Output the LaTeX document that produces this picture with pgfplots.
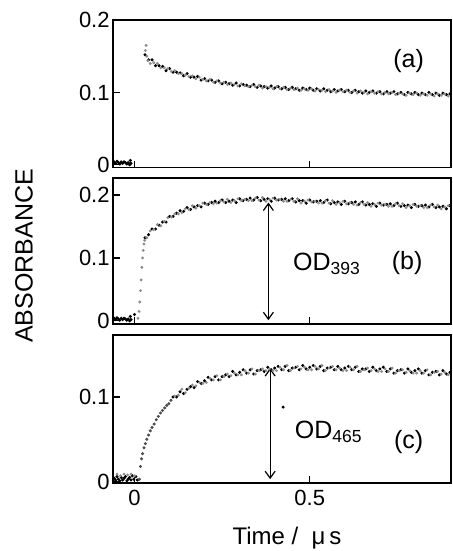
\documentclass[border=0pt]{standalone}
\usepackage{fontspec}
\setmainfont{Liberation Sans}
\usepackage{pgfplots}
\pgfplotsset{compat=1.18}
\usetikzlibrary{arrows.meta}

\tikzset{arr/.style={{Straight Barb[length=3.5pt,width=5pt]}-{Straight Barb[length=3.5pt,width=5pt]}, line width=0.6pt}}
\pgfplotsset{
  panel/.style={
    scale only axis, width=169pt,
    xmin=-0.0614, xmax=0.903,
    axis line style={line width=0.7pt},
    every tick/.style={line width=0.6pt, black},
    major tick length=3.5pt, tick align=inside, tick pos=left,
    xtick={0,0.5}, xticklabels={},
    /pgf/number format/assume math mode=true,
    yticklabel style={font=\fontsize{11}{12}\selectfont, inner sep=1.5pt},
    xticklabel style={font=\fontsize{11}{12}\selectfont},
    clip=false,
  },
  dark/.style={only marks, mark=*, mark size=0.55pt, black},
  light/.style={only marks, mark=*, mark size=0.5pt, black!45},
}

\begin{document}
\begin{tikzpicture}
\useasboundingbox (0,0) rectangle (226pt,275.5pt);

% ---------------- panel (a)
\begin{axis}[panel, at={(56.5pt,265.5pt)}, anchor=north west, height=73.85pt,
  ymin=-0.004, ymax=0.2001, ytick={0,0.1,0.2}]
\addplot[dark] coordinates {
(-0.058,0.004)(-0.054,0.002)(-0.050,0.005)(-0.046,0.003)(-0.042,0.001)(-0.038,0.004)
(-0.034,0.002)(-0.030,0.004)(-0.026,0.003)(-0.022,0.001)(-0.018,0.003)(-0.014,0.000)
(-0.012,0.006)(-0.010,0.002)
(0.03,0.152)(0.04,0.145)(0.05,0.145)(0.06,0.137)(0.07,0.137)(0.08,0.136)(0.09,0.130)
(0.10,0.133)(0.11,0.128)(0.12,0.128)(0.13,0.127)(0.14,0.123)(0.15,0.126)(0.16,0.121)
(0.17,0.121)(0.18,0.122)(0.19,0.117)(0.20,0.119)(0.21,0.116)(0.22,0.117)(0.23,0.114)
(0.24,0.116)(0.25,0.112)(0.26,0.114)(0.27,0.112)(0.28,0.110)(0.29,0.113)(0.30,0.109)
(0.31,0.111)(0.32,0.110)(0.33,0.108)(0.34,0.111)(0.35,0.107)(0.36,0.109)(0.37,0.108)
(0.38,0.106)(0.39,0.109)(0.40,0.106)(0.41,0.108)(0.42,0.105)(0.43,0.107)(0.44,0.104)
(0.45,0.107)(0.46,0.105)(0.47,0.103)(0.48,0.106)(0.49,0.104)(0.50,0.106)(0.51,0.103)
(0.52,0.105)(0.53,0.102)(0.54,0.105)(0.55,0.103)(0.56,0.101)(0.57,0.104)(0.58,0.102)
(0.59,0.104)(0.60,0.101)(0.61,0.103)(0.62,0.100)(0.63,0.103)(0.64,0.101)(0.65,0.099)
(0.66,0.102)(0.67,0.100)(0.68,0.102)(0.69,0.099)(0.70,0.101)(0.71,0.098)(0.72,0.101)
(0.73,0.099)(0.74,0.101)(0.75,0.098)(0.76,0.100)(0.77,0.097)(0.78,0.100)(0.79,0.098)
(0.80,0.100)(0.81,0.097)(0.82,0.099)(0.83,0.097)(0.84,0.100)(0.85,0.097)(0.86,0.099)
(0.87,0.096)(0.88,0.099)(0.89,0.097)(0.90,0.098)};
\addplot[light] coordinates {
(0.031,0.158)(0.033,0.165)(0.035,0.150)(0.038,0.144)
(0.045,0.140)(0.055,0.141)(0.065,0.140)(0.075,0.134)(0.085,0.134)(0.095,0.133)
(0.105,0.129)(0.115,0.130)(0.125,0.126)(0.135,0.126)(0.145,0.124)(0.155,0.122)
(0.165,0.123)(0.175,0.119)(0.185,0.121)(0.195,0.118)(0.205,0.116)(0.215,0.118)
(0.225,0.114)(0.235,0.116)(0.245,0.113)(0.255,0.114)(0.265,0.111)(0.275,0.113)
(0.285,0.111)(0.295,0.109)(0.305,0.112)(0.315,0.109)(0.325,0.108)(0.335,0.110)
(0.345,0.108)(0.355,0.110)(0.365,0.106)(0.375,0.108)(0.385,0.107)(0.395,0.105)
(0.405,0.108)(0.415,0.105)(0.425,0.107)(0.435,0.104)(0.445,0.106)(0.455,0.104)
(0.465,0.106)(0.475,0.103)(0.485,0.105)(0.495,0.103)(0.505,0.105)(0.515,0.102)
(0.525,0.104)(0.535,0.103)(0.545,0.101)(0.555,0.104)(0.565,0.102)(0.575,0.100)
(0.585,0.103)(0.595,0.101)(0.605,0.103)(0.615,0.100)(0.625,0.102)(0.635,0.099)
(0.645,0.102)(0.655,0.100)(0.665,0.098)(0.675,0.101)(0.685,0.099)(0.695,0.101)
(0.705,0.098)(0.715,0.100)(0.725,0.098)(0.735,0.100)(0.745,0.097)(0.755,0.099)
(0.765,0.098)(0.775,0.096)(0.785,0.099)(0.795,0.097)(0.805,0.099)(0.815,0.096)
(0.825,0.098)(0.835,0.096)(0.845,0.098)(0.855,0.095)(0.865,0.098)(0.875,0.096)
(0.885,0.098)(0.895,0.095)};
\node[font=\fontsize{12.5}{14}\selectfont] at (axis cs:0.782,0.144) {(a)};
\end{axis}

% ---------------- panel (b)
\begin{axis}[panel, at={(56.5pt,186.5pt)}, anchor=north west, height=73pt,
  ymin=-0.005, ymax=0.227, ytick={0,0.1,0.2}]
\addplot[dark] coordinates {
(-0.058,0.004)(-0.054,0.002)(-0.050,0.005)(-0.046,0.003)(-0.042,0.001)(-0.038,0.004)
(-0.034,0.002)(-0.030,0.004)(-0.026,0.003)(-0.022,0.001)(-0.018,0.003)(-0.014,0.000)
(-0.012,0.007)(-0.010,0.002)(0.000,0.010)
(0.03,0.132)(0.04,0.137)(0.05,0.146)(0.06,0.146)(0.07,0.152)(0.08,0.157)(0.09,0.157)
(0.10,0.166)(0.11,0.166)(0.12,0.171)(0.13,0.175)(0.14,0.174)(0.15,0.180)(0.16,0.177)
(0.17,0.181)(0.18,0.183)(0.19,0.181)(0.20,0.187)(0.21,0.185)(0.22,0.188)(0.23,0.190)
(0.24,0.188)(0.25,0.192)(0.26,0.188)(0.27,0.190)(0.28,0.192)(0.29,0.188)(0.30,0.194)
(0.31,0.191)(0.32,0.193)(0.33,0.195)(0.34,0.192)(0.35,0.196)(0.36,0.191)(0.37,0.193)
(0.38,0.194)(0.39,0.190)(0.40,0.195)(0.41,0.192)(0.42,0.193)(0.43,0.194)(0.44,0.191)
(0.45,0.194)(0.46,0.189)(0.47,0.191)(0.48,0.191)(0.49,0.187)(0.50,0.192)(0.51,0.189)
(0.52,0.190)(0.53,0.191)(0.54,0.188)(0.55,0.192)(0.56,0.186)(0.57,0.188)(0.58,0.189)
(0.59,0.185)(0.60,0.190)(0.61,0.186)(0.62,0.188)(0.63,0.189)(0.64,0.185)(0.65,0.189)
(0.66,0.184)(0.67,0.185)(0.68,0.186)(0.69,0.182)(0.70,0.187)(0.71,0.184)(0.72,0.185)
(0.73,0.186)(0.74,0.183)(0.75,0.187)(0.76,0.182)(0.77,0.183)(0.78,0.184)(0.79,0.180)
(0.80,0.185)(0.81,0.182)(0.82,0.183)(0.83,0.184)(0.84,0.181)(0.85,0.185)(0.86,0.180)
(0.87,0.181)(0.88,0.182)(0.89,0.178)(0.90,0.183)};
\addplot[light] coordinates {
(0.010,0.004)(0.013,0.015)(0.015,0.030)(0.017,0.048)(0.019,0.065)(0.021,0.085)
(0.023,0.100)(0.025,0.112)(0.027,0.122)(0.029,0.128)
(0.035,0.132)(0.045,0.143)(0.055,0.145)(0.065,0.153)(0.075,0.151)(0.085,0.158)
(0.095,0.164)(0.105,0.165)(0.115,0.170)(0.125,0.170)(0.135,0.172)(0.145,0.178)
(0.155,0.177)(0.165,0.183)(0.175,0.179)(0.185,0.183)(0.195,0.187)(0.205,0.185)
(0.215,0.188)(0.225,0.186)(0.235,0.187)(0.245,0.191)(0.255,0.189)(0.265,0.193)
(0.275,0.188)(0.285,0.191)(0.295,0.194)(0.305,0.191)(0.315,0.193)(0.325,0.191)
(0.335,0.191)(0.345,0.195)(0.355,0.192)(0.365,0.196)(0.375,0.190)(0.385,0.193)
(0.395,0.195)(0.405,0.192)(0.415,0.193)(0.425,0.190)(0.435,0.190)(0.445,0.193)
(0.455,0.190)(0.465,0.194)(0.475,0.187)(0.485,0.190)(0.495,0.192)(0.505,0.189)
(0.515,0.190)(0.525,0.187)(0.535,0.187)(0.545,0.191)(0.555,0.187)(0.565,0.191)
(0.575,0.185)(0.585,0.188)(0.595,0.190)(0.605,0.186)(0.615,0.188)(0.625,0.185)
(0.635,0.184)(0.645,0.188)(0.655,0.185)(0.665,0.188)(0.675,0.182)(0.685,0.185)
(0.695,0.187)(0.705,0.184)(0.715,0.185)(0.725,0.182)(0.735,0.182)(0.745,0.186)
(0.755,0.183)(0.765,0.186)(0.775,0.180)(0.785,0.183)(0.795,0.185)(0.805,0.182)
(0.815,0.183)(0.825,0.180)(0.835,0.180)(0.845,0.184)(0.855,0.181)(0.865,0.184)
(0.875,0.178)(0.885,0.181)(0.895,0.183)};
\draw[arr] (axis cs:0.382,0.001) -- (axis cs:0.382,0.188);
\node[font=\fontsize{12.5}{14}\selectfont] at (axis cs:0.549,0.090) {OD\textsubscript{393}};
\node[font=\fontsize{12.5}{14}\selectfont] at (axis cs:0.778,0.092) {(b)};
\end{axis}

% ---------------- panel (c)
\begin{axis}[panel, at={(56.5pt,108pt)}, anchor=north west, height=74pt,
  ymin=-0.0015, ymax=0.173, ytick={0,0.1}, xticklabels={0,0.5}]
\addplot[dark] coordinates {
(-0.058,0.004)(-0.054,0.002)(-0.050,0.006)(-0.046,0.003)(-0.042,0.001)(-0.038,0.005)
(-0.034,0.002)(-0.030,0.004)(-0.026,0.006)(-0.022,0.001)(-0.018,0.003)(-0.014,0.005)
(-0.010,0.002)(-0.006,0.007)(-0.002,0.003)(0.004,0.006)(0.008,0.002)
(0.110,0.100)(0.12,0.100)(0.13,0.106)(0.14,0.104)(0.15,0.109)(0.16,0.112)(0.17,0.111)
(0.18,0.118)(0.19,0.116)(0.20,0.119)(0.21,0.123)(0.22,0.120)(0.23,0.124)(0.24,0.120)
(0.25,0.124)(0.26,0.126)(0.27,0.124)(0.28,0.130)(0.29,0.126)(0.30,0.129)(0.31,0.132)
(0.32,0.128)(0.33,0.132)(0.34,0.127)(0.35,0.131)(0.36,0.132)(0.37,0.130)(0.38,0.135)
(0.39,0.132)(0.40,0.134)(0.41,0.136)(0.42,0.132)(0.43,0.136)(0.44,0.131)(0.45,0.134)
(0.46,0.135)(0.47,0.132)(0.48,0.137)(0.49,0.133)(0.50,0.135)(0.51,0.137)(0.52,0.133)
(0.53,0.136)(0.54,0.131)(0.55,0.134)(0.56,0.135)(0.57,0.132)(0.58,0.136)(0.59,0.132)
(0.60,0.134)(0.61,0.136)(0.62,0.132)(0.63,0.135)(0.64,0.130)(0.65,0.133)(0.66,0.133)
(0.67,0.130)(0.68,0.135)(0.69,0.131)(0.70,0.133)(0.71,0.135)(0.72,0.130)(0.73,0.133)
(0.74,0.128)(0.75,0.131)(0.76,0.132)(0.77,0.128)(0.78,0.133)(0.79,0.129)(0.80,0.131)
(0.81,0.133)(0.82,0.128)(0.83,0.131)(0.84,0.126)(0.85,0.129)(0.86,0.130)(0.87,0.126)
(0.88,0.131)(0.89,0.127)(0.90,0.129)
(0.424,0.088)};
\addplot[only marks, mark=*, mark size=0.55pt, black!70] coordinates {
(0.014,0.003)(0.017,0.018)(0.020,0.027)(0.023,0.033)(0.027,0.040)(0.031,0.045)
(0.035,0.050)(0.040,0.055)(0.045,0.060)(0.050,0.064)(0.056,0.068)(0.062,0.073)
(0.068,0.077)(0.074,0.081)(0.080,0.084)(0.086,0.087)(0.092,0.090)(0.098,0.092)
(0.104,0.096)};
\addplot[light] coordinates {
(-0.050,0.009)(-0.040,0.007)(-0.030,0.009)(-0.020,0.008)(-0.010,0.009)(0.000,0.007)
(0.115,0.101)(0.125,0.102)(0.135,0.109)(0.145,0.105)(0.155,0.110)
(0.165,0.114)(0.175,0.113)(0.185,0.117)(0.195,0.116)(0.205,0.117)(0.215,0.122)
(0.225,0.120)(0.235,0.125)(0.245,0.120)(0.255,0.124)(0.265,0.127)(0.275,0.125)
(0.285,0.128)(0.295,0.126)(0.305,0.126)(0.315,0.131)(0.325,0.128)(0.335,0.133)
(0.345,0.127)(0.355,0.131)(0.365,0.133)(0.375,0.131)(0.385,0.133)(0.395,0.131)
(0.405,0.131)(0.415,0.135)(0.425,0.132)(0.435,0.137)(0.445,0.131)(0.455,0.134)
(0.465,0.136)(0.475,0.133)(0.485,0.135)(0.495,0.132)(0.505,0.132)(0.515,0.136)
(0.525,0.133)(0.535,0.137)(0.545,0.131)(0.555,0.134)(0.565,0.136)(0.575,0.132)
(0.585,0.134)(0.595,0.131)(0.605,0.131)(0.615,0.135)(0.625,0.132)(0.635,0.136)
(0.645,0.130)(0.655,0.132)(0.665,0.134)(0.675,0.131)(0.685,0.133)(0.695,0.130)
(0.705,0.130)(0.715,0.133)(0.725,0.130)(0.735,0.134)(0.745,0.128)(0.755,0.131)
(0.765,0.132)(0.775,0.129)(0.785,0.131)(0.795,0.128)(0.805,0.128)(0.815,0.131)
(0.825,0.128)(0.835,0.132)(0.845,0.126)(0.855,0.129)(0.865,0.130)(0.875,0.127)
(0.885,0.129)(0.895,0.126)};
\draw[arr] (axis cs:0.387,0.003) -- (axis cs:0.387,0.134);
\node[font=\fontsize{12.5}{14}\selectfont] at (axis cs:0.554,0.059) {OD\textsubscript{465}};
\node[font=\fontsize{12.5}{14}\selectfont] at (axis cs:0.782,0.047) {(c)};
\end{axis}

\node[rotate=90, font=\fontsize{12.5}{14}\selectfont] at (12pt,147.5pt) {ABSORBANCE};
\node[font=\fontsize{12}{14}\selectfont] at (143.5pt,6.5pt) {Time /\ \ μ\,s};
\end{tikzpicture}
\end{document}
